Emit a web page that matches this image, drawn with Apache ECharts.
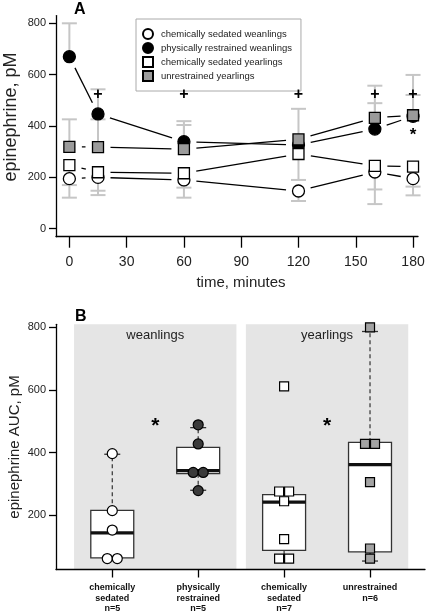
<!DOCTYPE html>
<html>
<head>
<meta charset="utf-8">
<script src="https://cdn.jsdelivr.net/npm/echarts@6/dist/echarts.min.js"></script>
<style>html,body{margin:0;padding:0;background:#fff}#c{width:430px;height:614px}</style>
</head>
<body>
<div id="c"></div>
<script>
// ---------- Panel A data ----------
const times = [0, 15, 60, 120, 160, 180];
const seriesNames = ['chemically sedated weanlings', 'physically restrained weanlings', 'chemically sedated yearlings', 'unrestrained yearlings'];
const csWeanlings = [195, 200, 190, 147, 221, 195];
const prWeanlings = [670, 447, 339, 326, 388, 438];
const csYearlings = [248, 220, 216, 291, 245, 242];
const urYearlings = [319, 318, 310, 348, 432, 442];
// far end of one-sided error bars
const csWeanlingsErrEnd = [121, 131, 121, 108, 96, 130];
const prWeanlingsErrEnd = [800, 543, 419, null, 489, 521];
const csYearlingsErrEnd = [170, 148, 160, 190, 153, 164];
const urYearlingsErrEnd = [426, 426, 404, 467, 557, 599];
const plusTimes = [15, 60, 120, 160, 180];
const plusLevel = 521;
const starA = [[180, 378]];
const xTicksA = [0, 30, 60, 90, 120, 150, 180];
const yTicksA = [0, 200, 400, 600, 800];

// ---------- Panel B data ----------
const boxLabels = ['chemically\nsedated\nn=5', 'physically\nrestrained\nn=5', 'chemically\nsedated\nn=7', 'unrestrained\nn=6'];
const groupNames = ['weanlings', 'yearlings'];
// [min, Q1, median, Q3, max]
const boxStats = [
  [62, 64, 144, 216, 395],
  [280, 333, 343, 417, 480],
  [57, 88, 242, 266, 276],
  [54, 83, 362, 433, 787]
];
const pointsCSW = [397, 215, 153, 62, 62];
const pointsPRW = [489, 428, 337, 337, 279];
const pointsCSY = [612, 276, 276, 245, 124, 62, 62];
const pointsURY = [800, 428, 428, 306, 94, 62];
const starB = [[1.5, 500], [3.5, 500]];
const yTicksB = [200, 400, 600, 800];

const FONT = '"Liberation Sans", Arial, Helvetica, sans-serif';
const chart = echarts.init(document.getElementById('c'), null, {renderer: 'canvas'});

const dataA = [csWeanlings, prWeanlings, csYearlings, urYearlings];
const errA = [csWeanlingsErrEnd, prWeanlingsErrEnd, csYearlingsErrEnd, urYearlingsErrEnd];
const markerStyleA = [
  {symbol: 'circle', size: 12, fill: '#fff'},
  {symbol: 'circle', size: 12, fill: '#000'},
  {symbol: 'rect', size: 11, fill: '#fff'},
  {symbol: 'rect', size: 11, fill: '#9b9b9b'}
];

const errItems = [];
dataA.forEach((arr, s) => arr.forEach((v, i) => {
  const e = errA[s][i];
  if (e != null) errItems.push([times[i], v, e]);
}));
const segItems = [];
dataA.forEach(arr => {
  for (let i = 0; i < arr.length - 1; i++) segItems.push([times[i], arr[i], times[i + 1], arr[i + 1]]);
});

const GAP = 12.5;
const series = [];
series.push({
  type: 'custom', xAxisIndex: 0, yAxisIndex: 0, z: 1, silent: true,
  data: errItems, encode: {x: 0, y: [1, 2]},
  renderItem(params, api) {
    const p0 = api.coord([api.value(0), api.value(1)]);
    const p1 = api.coord([api.value(0), api.value(2)]);
    const st = {stroke: '#c6c6c6', lineWidth: 2};
    return {type: 'group', children: [
      {type: 'line', shape: {x1: p0[0], y1: p0[1], x2: p1[0], y2: p1[1]}, style: st},
      {type: 'line', shape: {x1: p1[0] - 7.5, y1: p1[1], x2: p1[0] + 7.5, y2: p1[1]}, style: st}
    ]};
  }
});
series.push({
  type: 'custom', xAxisIndex: 0, yAxisIndex: 0, z: 2, silent: true,
  data: segItems, encode: {x: [0, 2], y: [1, 3]},
  renderItem(params, api) {
    const a = api.coord([api.value(0), api.value(1)]);
    const b = api.coord([api.value(2), api.value(3)]);
    const dx = b[0] - a[0], dy = b[1] - a[1];
    const L = Math.sqrt(dx * dx + dy * dy);
    if (L <= 2 * GAP + 0.5) return null;
    const ux = dx / L, uy = dy / L;
    return {type: 'line', shape: {x1: a[0] + ux * GAP, y1: a[1] + uy * GAP, x2: b[0] - ux * GAP, y2: b[1] - uy * GAP},
      style: {stroke: '#000', lineWidth: 1.3}};
  }
});
dataA.forEach((arr, s) => {
  const m = markerStyleA[s];
  series.push({
    type: 'scatter', name: seriesNames[s], xAxisIndex: 0, yAxisIndex: 0, z: 3 + s,
    symbol: m.symbol, symbolSize: m.size,
    itemStyle: {color: m.fill, borderColor: '#000', borderWidth: 1.3, opacity: 1},
    data: arr.map((v, i) => [times[i], v])
  });
});
const textItemsA = plusTimes.map(t => [t, plusLevel, '+', 16, 0]).concat(starA.map(p => [p[0], p[1], '*', 17, 4]));
series.push({
  type: 'custom', xAxisIndex: 0, yAxisIndex: 0, z: 10, silent: true,
  data: textItemsA, encode: {x: 0, y: 1},
  renderItem(params, api) {
    const it = textItemsA[params.dataIndex];
    const p = api.coord([it[0], it[1]]);
    return {type: 'text', x: p[0], y: p[1] + it[4], style: {text: it[2], fontSize: it[3], fontWeight: 'bold', fontFamily: FONT, fill: '#000', align: 'center', verticalAlign: 'middle'}};
  }
});

// ---------- Panel B ----------
series.push({
  type: 'custom', xAxisIndex: 1, yAxisIndex: 1, z: 0, silent: true,
  data: groupNames.map((g, i) => [1.5 + 2 * i]), encode: {x: 0},
  renderItem(params, api) {
    const c = api.value(0);
    const cs = params.coordSys;
    const l = api.coord([c - 0.945, 500])[0];
    const r = api.coord([c + 0.945, 500])[0];
    const mid = api.coord([c, 500])[0];
    return {type: 'group', children: [
      {type: 'rect', shape: {x: l, y: cs.y, width: r - l, height: cs.height}, style: {fill: '#e5e5e5'}},
      {type: 'text', x: mid, y: cs.y + 11, style: {text: groupNames[params.dataIndex], fontSize: 13, fontFamily: FONT, fill: '#222', align: 'center', verticalAlign: 'middle'}}
    ]};
  }
});
series.push({
  type: 'custom', xAxisIndex: 1, yAxisIndex: 1, z: 2, silent: true,
  data: boxStats.map((s, i) => [i + 1].concat(s)), encode: {x: 0, y: [1, 5]},
  renderItem(params, api) {
    const x = api.value(0);
    const hw = api.size([0.25, 0])[0];
    const cw = 8;
    const P = k => api.coord([x, api.value(k)]);
    const pmin = P(1), q1 = P(2), med = P(3), q3 = P(4), pmax = P(5);
    const cx = pmin[0];
    const dash = {stroke: '#333', lineWidth: 1.2, lineDash: [4, 3]};
    const solid = {stroke: '#333', lineWidth: 1.3};
    return {type: 'group', children: [
      {type: 'line', shape: {x1: cx, y1: q3[1], x2: cx, y2: pmax[1]}, style: dash},
      {type: 'line', shape: {x1: cx, y1: q1[1], x2: cx, y2: pmin[1]}, style: dash},
      {type: 'line', shape: {x1: cx - cw, y1: pmax[1], x2: cx + cw, y2: pmax[1]}, style: solid},
      {type: 'line', shape: {x1: cx - cw, y1: pmin[1], x2: cx + cw, y2: pmin[1]}, style: solid},
      {type: 'rect', shape: {x: cx - hw, y: q3[1], width: 2 * hw, height: q1[1] - q3[1]}, style: {fill: '#fff', stroke: '#333', lineWidth: 1.3}},
      {type: 'line', shape: {x1: cx - hw, y1: med[1], x2: cx + hw, y2: med[1]}, style: {stroke: '#111', lineWidth: 3.2}}
    ]};
  }
});
const pointsB = [pointsCSW, pointsPRW, pointsCSY, pointsURY];
const markerStyleB = [
  {symbol: 'circle', size: 10, fill: '#fff'},
  {symbol: 'circle', size: 10, fill: '#3a3a3a'},
  {symbol: 'rect', size: 9, fill: '#fff'},
  {symbol: 'rect', size: 9, fill: '#a3a3a3'}
];
pointsB.forEach((arr, g) => {
  const seen = {};
  const data = arr.map(v => {
    const n = arr.filter(w => w === v).length;
    seen[v] = (seen[v] || 0) + 1;
    const dx = n > 1 ? (seen[v] - 1 - (n - 1) / 2) * 10 : 0;
    return {value: [g + 1, v], symbolOffset: [dx, 0]};
  });
  const m = markerStyleB[g];
  series.push({
    type: 'scatter', xAxisIndex: 1, yAxisIndex: 1, z: 5, silent: true,
    symbol: m.symbol, symbolSize: m.size,
    itemStyle: {color: m.fill, borderColor: '#000', borderWidth: 1.2, opacity: 1},
    data
  });
});
series.push({
  type: 'custom', xAxisIndex: 1, yAxisIndex: 1, z: 10, silent: true,
  data: starB, encode: {x: 0, y: 1},
  renderItem(params, api) {
    const p = api.coord([api.value(0), api.value(1)]);
    return {type: 'text', x: p[0], y: p[1] + 5, style: {text: '*', fontSize: 21, fontWeight: 'bold', fontFamily: FONT, fill: '#000', align: 'center', verticalAlign: 'middle'}};
  }
});

const axisLineStyle = {show: true, onZero: false, lineStyle: {color: '#000', width: 1.3}};
const option = {
  animation: false,
  backgroundColor: '#fff',
  textStyle: {fontFamily: FONT},
  grid: [
    {left: 56, right: 12, top: 15.6, height: 221.1},
    {left: 56, right: 5, top: 324.3, height: 245.7}
  ],
  xAxis: [
    {type: 'value', gridIndex: 0, min: -7, max: 182.6, splitLine: {show: false},
      axisLine: axisLineStyle,
      axisTick: {show: true, customValues: xTicksA, length: 11, lineStyle: {color: '#000', width: 1.3}},
      axisLabel: {customValues: xTicksA, margin: 18, fontSize: 14, color: '#222', fontFamily: FONT}},
    {type: 'value', gridIndex: 1, min: 0.345, max: 4.64, splitLine: {show: false},
      axisLine: axisLineStyle,
      axisTick: {show: true, customValues: [1, 2, 3, 4], length: 8, lineStyle: {color: '#000', width: 1.3}},
      axisLabel: {customValues: [1, 2, 3, 4], margin: 13, fontSize: 9, fontWeight: 'bold', lineHeight: 10.5, color: '#111', fontFamily: FONT,
        formatter: v => boxLabels[Math.round(v) - 1] || ''}}
  ],
  yAxis: [
    {type: 'value', gridIndex: 0, min: -31, max: 830, splitLine: {show: false},
      axisLine: axisLineStyle,
      axisTick: {show: true, customValues: yTicksA, length: 7, lineStyle: {color: '#000', width: 1.3}},
      axisLabel: {customValues: yTicksA, margin: 10, fontSize: 11, color: '#222', fontFamily: FONT}},
    {type: 'value', gridIndex: 1, min: 27, max: 810, splitLine: {show: false},
      axisLine: axisLineStyle,
      axisTick: {show: true, customValues: yTicksB, length: 7, lineStyle: {color: '#000', width: 1.3}},
      axisLabel: {customValues: yTicksB, margin: 10, fontSize: 11, color: '#222', fontFamily: FONT}}
  ],
  legend: {
    data: seriesNames, orient: 'vertical', left: 136, top: 19,
    padding: [9, 9, 9, 6], itemGap: 2, itemWidth: 10, itemHeight: 10,
    backgroundColor: '#fff', borderColor: '#aaa', borderWidth: 1, borderRadius: 0,
    selectedMode: false,
    textStyle: {fontSize: 9.5, color: '#222', fontFamily: FONT, padding: [0, 0, 0, 3]}
  },
  graphic: [
    {type: 'text', x: 74, y: 2, style: {text: 'A', fontSize: 16, fontWeight: 'bold', fontFamily: FONT, fill: '#000'}},
    {type: 'text', x: 75, y: 309, style: {text: 'B', fontSize: 16, fontWeight: 'bold', fontFamily: FONT, fill: '#000'}},
    {type: 'text', x: 11, y: 117, rotation: Math.PI / 2, style: {text: 'epinephrine, pM', fontSize: 18, fontFamily: FONT, fill: '#222', align: 'center', verticalAlign: 'middle'}},
    {type: 'text', x: 241, y: 283, style: {text: 'time, minutes', fontSize: 15, fontFamily: FONT, fill: '#222', align: 'center', verticalAlign: 'middle'}},
    {type: 'text', x: 15, y: 447, rotation: Math.PI / 2, style: {text: 'epinephrine AUC, pM', fontSize: 15, fontFamily: FONT, fill: '#222', align: 'center', verticalAlign: 'middle'}}
  ],
  series
};
chart.setOption(option);
</script>
</body>
</html>
